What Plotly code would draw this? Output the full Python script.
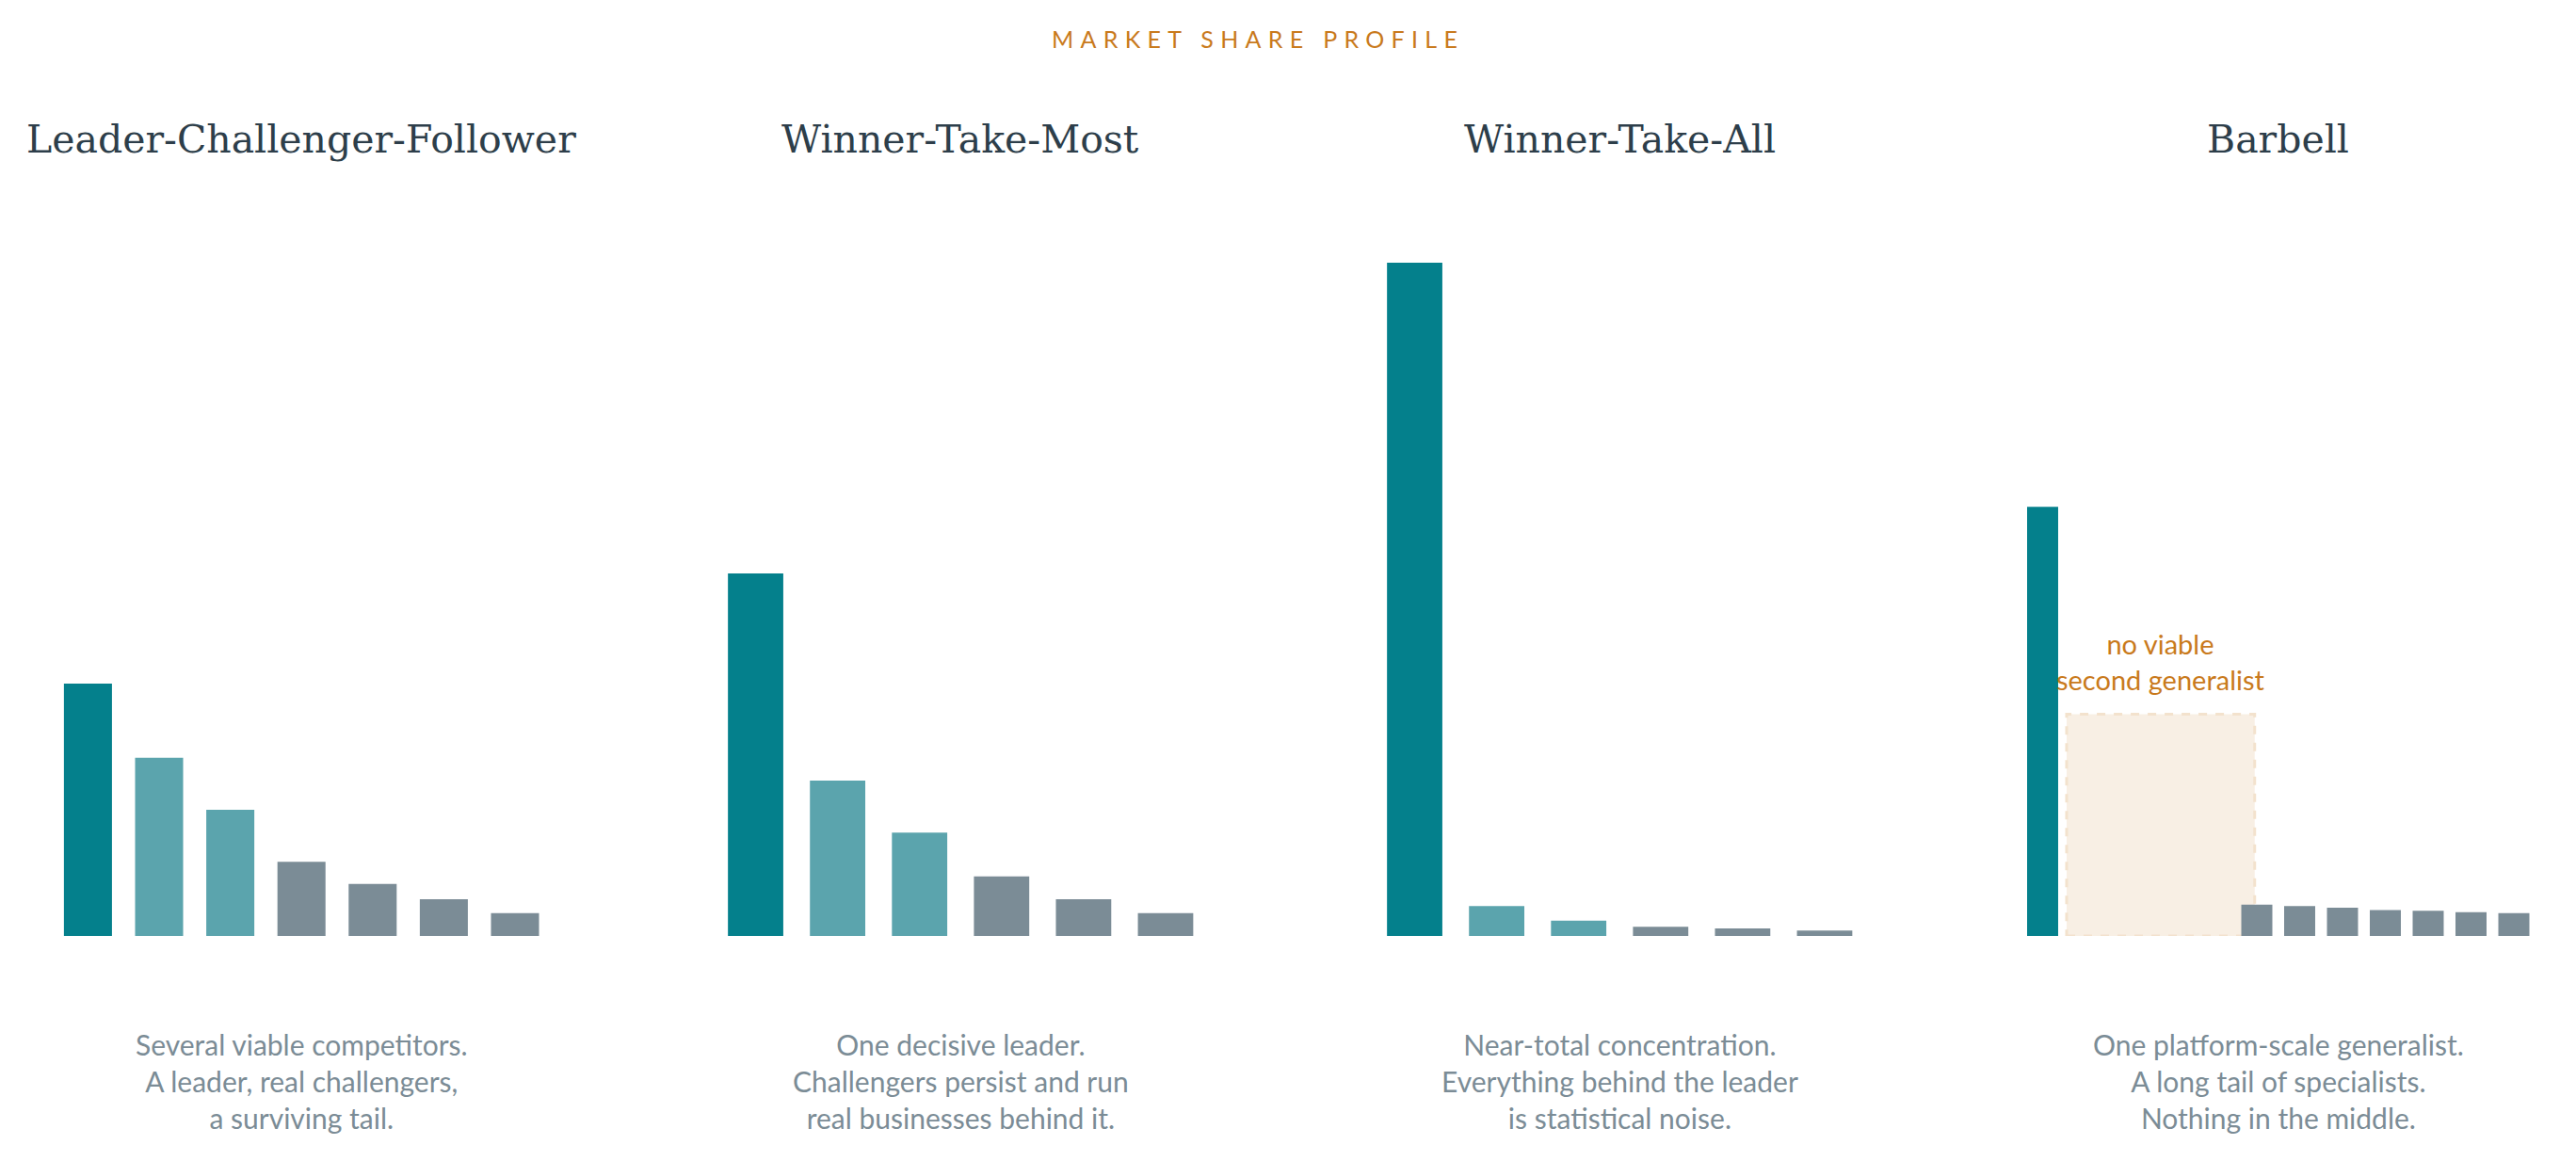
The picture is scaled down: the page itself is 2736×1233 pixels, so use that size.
import plotly.graph_objects as go

# ---------------- data ----------------
panel_titles = ["Leader-Challenger-Follower", "Winner-Take-Most", "Winner-Take-All", "Barbell"]
captions = [
    "Several viable competitors.<br>A leader, real challengers,<br>a surviving tail.",
    "One decisive leader.<br>Challengers persist and run<br>real businesses behind it.",
    "Near-total concentration.<br>Everything behind the leader<br>is statistical noise.",
    "One platform-scale generalist.<br>A long tail of specialists.<br>Nothing in the middle.",
]
lcf_shares = [33.0, 23.3, 16.5, 9.7, 6.8, 4.8, 3.0]
wtm_shares = [47.4, 20.3, 13.5, 7.8, 4.8, 3.0]
wta_shares = [88.0, 3.9, 2.0, 1.2, 1.0, 0.7]
barbell_leader = [56.1]
barbell_tail = [4.1, 3.9, 3.7, 3.4, 3.3, 3.1, 3.0]
barbell_missing_slots = 4          # empty middle positions
barbell_gap_level = 29.0           # height of the "no viable second generalist" zone
n_challengers = [2, 2, 2, 0]
main_title = "MARKET SHARE PROFILE"
gap_note = "no viable<br>second generalist"

# ---------------- style ----------------
W, H = 2736, 1233
OFF = 8  # page body margin offset
LEADER = "#04808c"
CHALL = "#5ba4ad"
TAIL = "#7b8c96"
TITLE_C = "#2d3e4a"
ORANGE = "#c97a1c"
CAP_C = "#7b8c96"
SANS = "Lato, 'Open Sans', sans-serif"
SERIF = "'DejaVu Serif', serif"

baseline_px = 994 - OFF
px_per_unit = 8.125
y_top = 100
ydom = [1 - baseline_px / H, 1 - (baseline_px - px_per_unit * y_top) / H]

# x domains (pixel extents of each panel)
x_dom_px = [(55.6, 584.8), (759.0, 1281.5), (1459.0, 1981.5), (2146.75, 2692.75)]
bar_width = [0.675, 0.675, 0.675, 0.725]


def colors_for(n, n_ch):
    return [LEADER if i == 0 else (CHALL if i <= n_ch else TAIL) for i in range(n)]


fig = go.Figure()

panels = [lcf_shares, wtm_shares, wta_shares]
for k, vals in enumerate(panels):
    ax = "" if k == 0 else str(k + 1)
    fig.add_trace(go.Bar(
        x=list(range(len(vals))), y=vals,
        marker=dict(color=colors_for(len(vals), n_challengers[k]), line=dict(width=0)),
        width=bar_width[k], xaxis="x" + ax, yaxis="y" + ax,
        hoverinfo="skip", showlegend=False,
    ))

# barbell
tail_start = 1 + barbell_missing_slots
bb_x = [0] + [tail_start + i for i in range(len(barbell_tail))]
bb_y = barbell_leader + barbell_tail
fig.add_trace(go.Bar(
    x=bb_x, y=bb_y,
    marker=dict(color=[LEADER] + [TAIL] * len(barbell_tail), line=dict(width=0)),
    width=bar_width[3], xaxis="x4", yaxis="y4",
    hoverinfo="skip", showlegend=False,
))
n_slots = [len(lcf_shares), len(wtm_shares), len(wta_shares), tail_start + len(barbell_tail)]

layout = dict(
    width=W, height=H, margin=dict(l=0, r=0, t=0, b=0),
    paper_bgcolor="white", plot_bgcolor="rgba(0,0,0,0)",
    showlegend=False, barmode="overlay",
)
for k in range(4):
    ax = "" if k == 0 else str(k + 1)
    layout["xaxis" + ax] = dict(
        domain=[(x_dom_px[k][0] - OFF) / W, (x_dom_px[k][1] - OFF) / W],
        range=[-0.5, n_slots[k] - 0.5], anchor="y" + ax,
        visible=False, fixedrange=True,
    )
    layout["yaxis" + ax] = dict(
        domain=ydom, range=[0, y_top], anchor="x" + ax,
        visible=False, fixedrange=True,
    )
fig.update_layout(**layout)

# ghost zone in barbell
fig.add_shape(
    type="rect", xref="x4", yref="y4",
    x0=0.56, x1=4.95, y0=0, y1=barbell_gap_level,
    fillcolor="#f8efe4", line=dict(color="#f3e2cd", width=3, dash="dash"),
    layer="below",
)

annotations = []
annotations.append(dict(
    text='<span style="letter-spacing:7.3px">' + main_title + "</span>",
    xref="paper", yref="paper", x=(1336 - OFF) / W, y=1 - (41 - OFF) / H,
    xanchor="center", yanchor="middle", showarrow=False,
    font=dict(family=SANS, size=25, color=ORANGE),
))
for k in range(4):
    ax = "" if k == 0 else str(k + 1)
    annotations.append(dict(
        text=panel_titles[k], xref="x" + ax + " domain", yref="paper",
        x=0.5, y=1 - (148 - OFF) / H, xanchor="center", yanchor="middle", showarrow=False,
        font=dict(family=SERIF, size=41, color=TITLE_C),
    ))
    annotations.append(dict(
        text=captions[k], xref="x" + ax + " domain", yref="paper",
        x=0.5, y=1 - (1148 - OFF) / H, xanchor="center", yanchor="middle", showarrow=False,
        align="center", font=dict(family=SANS, size=30, color=CAP_C),
    ))
annotations.append(dict(
    text=gap_note, xref="x4", yref="paper",
    x=2.75, y=1 - (702 - OFF) / H, xanchor="center", yanchor="middle", showarrow=False,
    align="center", font=dict(family=SANS, size=29, color=ORANGE),
))
fig.update_layout(annotations=annotations)

fig.write_html("out.html")
